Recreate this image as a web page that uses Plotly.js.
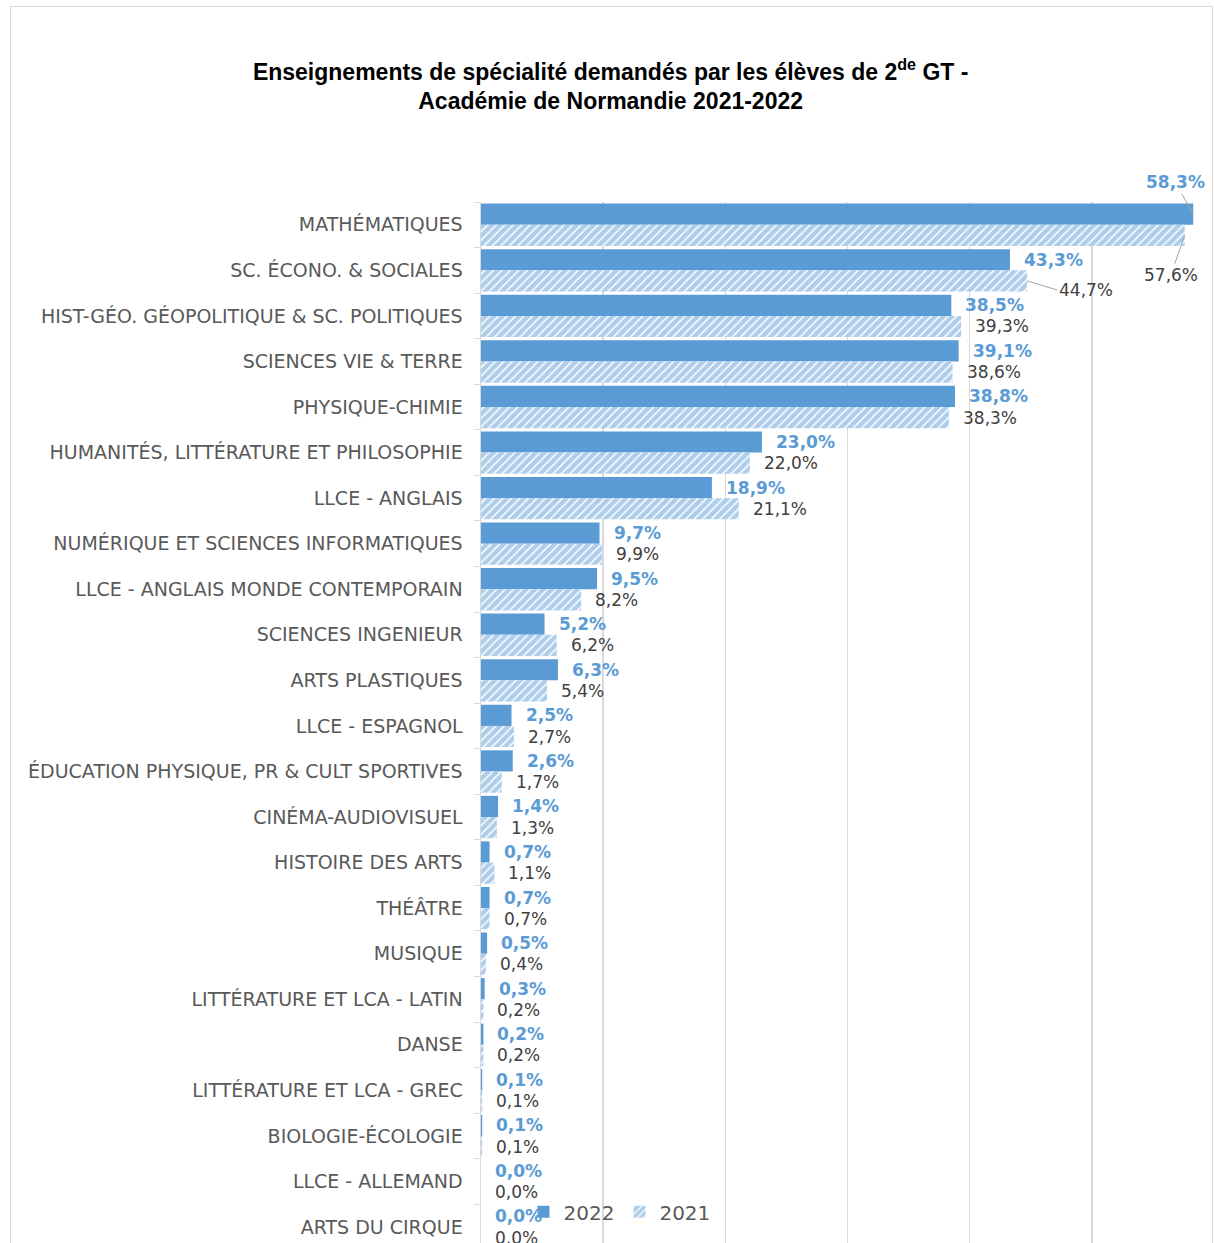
<!DOCTYPE html>
<html>
<head>
<meta charset="utf-8">
<script src="https://cdn.plot.ly/plotly-3.0.1.min.js"></script>
<style>
html,body{margin:0;padding:0;background:#fff;overflow:hidden;}
#chart{position:absolute;left:0;top:0;width:1214px;height:1243px;}
#frame{position:absolute;left:10px;top:6px;width:1201px;height:1300px;border:1px solid #d9d9d9;pointer-events:none;}
</style>
</head>
<body>
<div id="chart"></div>
<div id="frame"></div>
<script>
const categories = [
  "MATHÉMATIQUES",
  "SC. ÉCONO. & SOCIALES",
  "HIST-GÉO. GÉOPOLITIQUE & SC. POLITIQUES",
  "SCIENCES VIE & TERRE",
  "PHYSIQUE-CHIMIE",
  "HUMANITÉS, LITTÉRATURE ET PHILOSOPHIE",
  "LLCE - ANGLAIS",
  "NUMÉRIQUE ET SCIENCES INFORMATIQUES",
  "LLCE - ANGLAIS MONDE CONTEMPORAIN",
  "SCIENCES INGENIEUR",
  "ARTS PLASTIQUES",
  "LLCE - ESPAGNOL",
  "ÉDUCATION PHYSIQUE, PR & CULT SPORTIVES",
  "CINÉMA-AUDIOVISUEL",
  "HISTOIRE DES ARTS",
  "THÉÂTRE",
  "MUSIQUE",
  "LITTÉRATURE ET LCA - LATIN",
  "DANSE",
  "LITTÉRATURE ET LCA - GREC",
  "BIOLOGIE-ÉCOLOGIE",
  "LLCE - ALLEMAND",
  "ARTS DU CIRQUE"
];
const values2022 = [58.3, 43.3, 38.5, 39.1, 38.8, 23.0, 18.9, 9.7, 9.5, 5.2, 6.3, 2.5, 2.6, 1.4, 0.7, 0.7, 0.5, 0.3, 0.2, 0.1, 0.1, 0.0, 0.0];
const values2021 = [57.6, 44.7, 39.3, 38.6, 38.3, 22.0, 21.1, 9.9, 8.2, 6.2, 5.4, 2.7, 1.7, 1.3, 1.1, 0.7, 0.4, 0.2, 0.2, 0.1, 0.1, 0.0, 0.0];
const seriesNames = ["2022", "2021"];

const BLUE = "#5B9BD5";
const fmt = v => v.toFixed(1).replace(".", ",") + "%";

// labels with leader lines (offsets in pixels)
const leaders = {
  "0|0": {ax: -18, ay: -32, xanchor: "center"},
  "1|0": {ax: -14, ay: 40, xanchor: "center"},
  "1|1": {ax: 30, ay: 9, xanchor: "left"}
};

const traces = [
  {
    type: "bar", orientation: "h", name: seriesNames[0],
    y: categories, x: values2022,
    marker: {color: BLUE},
    hoverinfo: "skip"
  },
  {
    type: "bar", orientation: "h", name: seriesNames[1],
    y: categories, x: values2021,
    marker: {color: "#ffffff", pattern: {shape: "/", fgcolor: BLUE, bgcolor: "#ffffff", size: 6, solidity: 0.75, fillmode: "overlay"}},
    hoverinfo: "skip"
  }
];

const annotations = [];
[values2022, values2021].forEach((vals, s) => {
  vals.forEach((v, i) => {
    const font = s === 0
      ? {family: "DejaVu Sans", size: 17, color: BLUE, weight: "bold"}
      : {family: "DejaVu Sans", size: 17, color: "#404040"};
    const key = s + "|" + i;
    const yshift = s === 0 ? 10.6 : -10.6;
    if (leaders[key]) {
      const L = leaders[key];
      annotations.push({
        x: v, y: categories[i], xref: "x", yref: "y", yshift: yshift,
        text: fmt(v), font: font, showarrow: true, arrowhead: 0,
        arrowcolor: "#a6a6a6", arrowwidth: 1, ax: L.ax, ay: L.ay,
        xanchor: L.xanchor, yanchor: "middle", standoff: 0, startstandoff: 0
      });
    } else {
      annotations.push({
        x: v, y: categories[i], xref: "x", yref: "y",
        xanchor: "left", yanchor: "middle", xshift: 12, yshift: yshift,
        text: fmt(v), font: font, showarrow: false
      });
    }
  });
});

const layout = {
  width: 1214, height: 1243,
  margin: {l: 481, r: 0, t: 202, b: 0, pad: 0},
  paper_bgcolor: "rgba(0,0,0,0)",
  plot_bgcolor: "rgba(0,0,0,0)",
  barmode: "group",
  bargap: 0.07,
  bargroupgap: 0,
  title: {
    text: "Enseignements de spécialité demandés par les élèves de 2<sup>de</sup> GT -<br>Académie de Normandie 2021-2022",
    font: {family: "Liberation Sans", size: 23, color: "#000000", weight: "bold"},
    x: 0.503, xref: "container", xanchor: "center",
    y: 0.936, yref: "container", yanchor: "middle"
  },
  xaxis: {
    range: [0, 60], showticklabels: false, ticks: "",
    showgrid: true, gridcolor: "#d9d9d9", gridwidth: 1.5,
    dtick: 10, zeroline: false, showline: false, fixedrange: true
  },
  yaxis: {
    type: "category", range: [22.35, -0.5],
    showline: true, linecolor: "#d9d9d9", linewidth: 1.5,
    ticks: "outside", ticklen: 6, tickcolor: "#d9d9d9", tickson: "boundaries",
    ticklabelstandoff: 13,
    tickfont: {family: "DejaVu Sans", size: 19, color: "#595959"},
    showgrid: false, zeroline: false, fixedrange: true
  },
  showlegend: true,
  legend: {
    orientation: "h", x: 0.058, xanchor: "left", y: 0.03, yanchor: "middle",
    bgcolor: "rgba(0,0,0,0)",
    font: {family: "DejaVu Sans", size: 20, color: "#595959"},
    itemwidth: 30, traceorder: "normal"
  },
  annotations: annotations
};

Plotly.newPlot("chart", traces, layout, {displayModeBar: false, staticPlot: true});
</script>
</body>
</html>
